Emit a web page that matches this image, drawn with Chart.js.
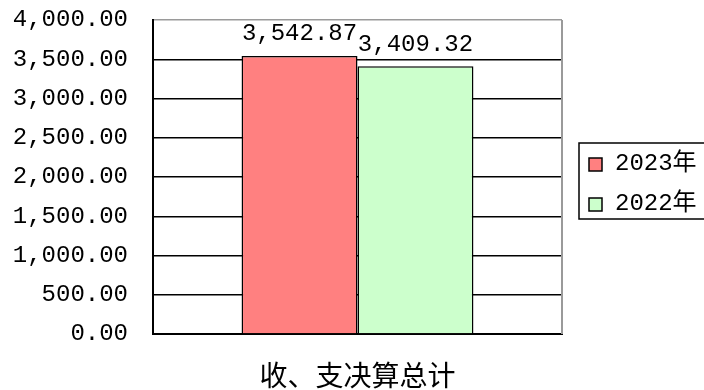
<!DOCTYPE html>
<html>
<head>
<meta charset="utf-8">
<script src="https://cdn.jsdelivr.net/npm/chart.js@4/dist/chart.umd.min.js"></script>
<style>
html,body{margin:0;padding:0;background:#fff;}
#wrap{width:704px;height:390px;position:relative;}
</style>
</head>
<body>
<div id="wrap"><canvas id="c" width="704" height="390"></canvas></div>
<script>
const categories = ['收、支决算总计'];
const seriesLabels = ['2023年', '2022年'];
const values2023 = [3542.87];
const values2022 = [3409.32];
const seriesColors = ['#FF8080', '#CCFFCC'];
const yMin = 0, yMax = 4000, yStep = 500;

const numFont = "'Liberation Mono', 'Noto Sans CJK SC', monospace";
const cjkFont = "'Noto Sans CJK SC', sans-serif";
const fmt = v => v.toLocaleString('en-US', {minimumFractionDigits: 2, maximumFractionDigits: 2});

const extras = {
  id: 'extras',
  afterDatasetsDraw(chart) {
    const ctx = chart.ctx;
    const a = chart.chartArea;
    ctx.save();
    // right border
    ctx.strokeStyle = '#9a9a9a';
    ctx.lineWidth = 2;
    ctx.beginPath();
    ctx.moveTo(a.right, a.top);
    ctx.lineTo(a.right, a.bottom);
    ctx.stroke();
    // data labels
    ctx.fillStyle = '#000';
    ctx.font = '24px ' + numFont;
    ctx.textAlign = 'center';
    ctx.textBaseline = 'middle';
    chart.data.datasets.forEach((ds, i) => {
      const meta = chart.getDatasetMeta(i);
      meta.data.forEach((bar, j) => {
        ctx.fillText(fmt(ds.data[j]), bar.x, bar.y - 22);
      });
    });
    // legend
    const lx = 579, ly = 143, lw = 140, lh = 76;
    ctx.strokeStyle = '#000';
    ctx.lineWidth = 1.5;
    ctx.strokeRect(lx, ly, lw, lh);
    ctx.textAlign = 'left';
    ctx.font = '24px ' + numFont;
    chart.data.datasets.forEach((ds, i) => {
      const cy = 164 + i * 40;
      ctx.fillStyle = ds.backgroundColor;
      ctx.fillRect(589, cy - 6, 13, 13);
      ctx.strokeStyle = '#000';
      ctx.lineWidth = 1.5;
      ctx.strokeRect(589, cy - 6, 13, 13);
      ctx.fillStyle = '#000';
      ctx.fillText(ds.label, 615, cy);
    });
    ctx.restore();
  }
};

new Chart(document.getElementById('c'), {
  type: 'bar',
  data: {
    labels: categories,
    datasets: [
      {label: seriesLabels[0], data: values2023, backgroundColor: seriesColors[0], borderColor: '#000', borderWidth: 1.5},
      {label: seriesLabels[1], data: values2022, backgroundColor: seriesColors[1], borderColor: '#000', borderWidth: 1.5}
    ]
  },
  options: {
    responsive: false,
    animation: false,
    devicePixelRatio: 1,
    categoryPercentage: 0.567,
    barPercentage: 1,
    layout: {padding: {top: 20, right: 142, bottom: 0, left: 0}},
    plugins: {legend: {display: false}, tooltip: {enabled: false}},
    scales: {
      x: {
        grid: {display: false, drawTicks: false},
        border: {display: true, color: '#000', width: 2},
        ticks: {color: '#000', padding: 27, font: {family: cjkFont, size: 28, lineHeight: 1}},
        afterFit(s) { s.height = 56; }
      },
      y: {
        min: yMin, max: yMax,
        grid: {
          color: c => (c.tick && c.tick.value === yMax) ? '#9a9a9a' : '#000',
          lineWidth: 1.5,
          drawTicks: false
        },
        border: {display: true, color: '#000', width: 2},
        ticks: {stepSize: yStep, color: '#000', padding: 25, font: {family: numFont, size: 24}, callback: v => fmt(v)},
        afterFit(s) { s.width = 153; s.paddingTop = 14; s.paddingBottom = 14; }
      }
    }
  },
  plugins: [extras]
});
</script>
</body>
</html>
